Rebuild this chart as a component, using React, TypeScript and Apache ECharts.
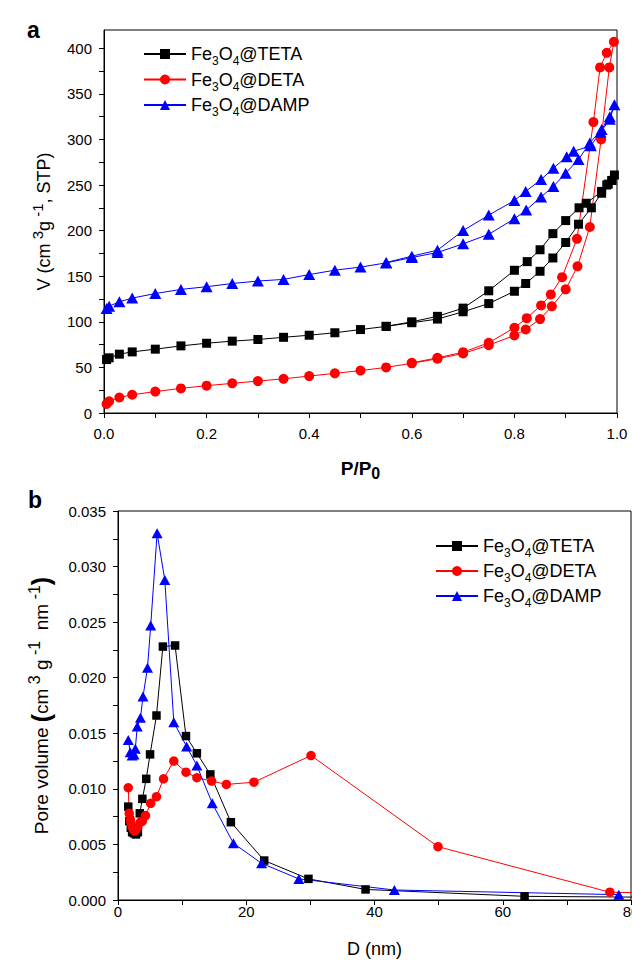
import React, { useEffect, useRef } from 'react';
import * as echarts from 'echarts';

const FONT = 'Liberation Sans, Arial, sans-serif';

// ---------- Panel a: N2 adsorption / desorption isotherms ----------
const tetaAdsP = [0.005, 0.01, 0.03, 0.055, 0.1, 0.15, 0.2, 0.25, 0.3, 0.35, 0.4, 0.45, 0.5, 0.55, 0.6, 0.65, 0.7, 0.75, 0.8, 0.822, 0.85, 0.875, 0.9, 0.925, 0.95, 0.97, 0.98, 0.99, 0.995];
const tetaAdsV = [58.6, 60.5, 64.5, 67, 70, 73.6, 76.5, 78.8, 80.6, 83, 85.3, 88, 91.5, 95, 99, 103, 111, 120, 133.5, 142, 155.4, 170, 187, 207, 225, 241, 250, 255, 261];
const tetaDesP = [0.99, 0.983, 0.97, 0.94, 0.926, 0.9, 0.875, 0.85, 0.825, 0.8, 0.75, 0.7, 0.65, 0.6, 0.55];
const tetaDesV = [255, 251, 243, 230, 225, 211, 196.7, 179, 166, 156.5, 134, 115, 106, 100, 95];

const detaAdsP = [0.005, 0.01, 0.03, 0.055, 0.1, 0.15, 0.2, 0.25, 0.3, 0.35, 0.4, 0.45, 0.5, 0.55, 0.6, 0.65, 0.7, 0.75, 0.8, 0.822, 0.85, 0.873, 0.9, 0.923, 0.947, 0.969, 0.985, 0.994];
const detaAdsV = [10, 12.8, 17, 20, 23.5, 27, 30, 32.5, 35, 37.5, 40.5, 43.5, 46.5, 50, 54.5, 59.5, 65.2, 74.4, 85, 91.6, 103, 117, 135.6, 160.8, 204, 300, 379, 407];
const detaDesP = [0.98, 0.967, 0.954, 0.922, 0.893, 0.871, 0.852, 0.824, 0.8, 0.75, 0.7, 0.65, 0.6];
const detaDesV = [395, 379, 319, 191, 149, 130, 118, 104, 93.5, 77, 66.7, 60.5, 55];

const dampAdsP = [0.005, 0.01, 0.03, 0.055, 0.1, 0.15, 0.2, 0.25, 0.3, 0.35, 0.4, 0.45, 0.5, 0.55, 0.6, 0.65, 0.7, 0.75, 0.8, 0.823, 0.852, 0.876, 0.9, 0.925, 0.947, 0.97, 0.986, 0.995];
const dampAdsV = [114.5, 117, 122, 126, 131, 135.5, 138.5, 142, 144.7, 146.5, 151.8, 156.6, 160, 164.6, 170.5, 176, 185.5, 196, 213, 222.5, 237, 248.5, 263, 278, 296, 311, 325, 338];
const dampDesP = [0.986, 0.968, 0.949, 0.9155, 0.902, 0.876, 0.852, 0.822, 0.8, 0.75, 0.7, 0.65, 0.6, 0.55];
const dampDesV = [322, 308, 293, 287, 281, 268.5, 256, 243, 233, 217, 200, 178.5, 172, 165];

// ---------- Panel b: pore size distribution ----------
const tetaD = [1.6, 1.75, 2.0, 2.2, 2.5, 2.8, 3.1, 3.4, 3.8, 4.4, 5.0, 6.0, 7.0, 8.9, 10.6, 12.3, 14.4, 17.6, 22.8, 29.7, 38.6, 63.4, 95];
const tetaPV = [0.0084, 0.0071, 0.0065, 0.0061, 0.006, 0.0059, 0.0061, 0.0078, 0.0091, 0.0109, 0.0131, 0.0166, 0.0228, 0.0229, 0.01475, 0.0132, 0.0113, 0.007, 0.00355, 0.0019, 0.00095, 0.00033, 0.0002];

const detaD = [1.6, 1.75, 1.9, 2.0, 2.2, 2.4, 2.6, 2.8, 3.1, 3.5, 3.8, 4.3, 5.1, 6.0, 7.1, 8.7, 10.6, 12.3, 14.6, 16.9, 21.2, 30.1, 49.9, 76.7, 95];
const detaPV = [0.0101, 0.0078, 0.0073, 0.007, 0.0066, 0.0063, 0.0062, 0.0063, 0.0066, 0.007, 0.0071, 0.0076, 0.0087, 0.0093, 0.0109, 0.0125, 0.0115, 0.011, 0.0107, 0.0104, 0.0106, 0.013, 0.0048, 0.0007, 0.0005];

const dampD = [1.6, 1.9, 2.2, 2.5, 2.7, 3.0, 3.5, 3.9, 4.6, 5.1, 6.1, 7.3, 8.7, 10.7, 12.3, 14.7, 18.0, 22.4, 28.2, 43.1, 78.1];
const dampPV = [0.0144, 0.0133, 0.013, 0.0131, 0.0136, 0.0156, 0.0164, 0.0183, 0.0209, 0.0247, 0.033, 0.0288, 0.016, 0.0138, 0.0121, 0.0087, 0.0051, 0.0033, 0.0019, 0.0009, 0.00048];

// ---------- Tick positions / labels ----------
const pTicks = [0, 0.1, 0.2, 0.3, 0.4, 0.5, 0.6, 0.7, 0.8, 0.9, 1.0];
const pLabels = [0, 0.2, 0.4, 0.6, 0.8, 1.0];
const vTicks = [0, 25, 50, 75, 100, 125, 150, 175, 200, 225, 250, 275, 300, 325, 350, 375, 400];
const vLabels = [0, 50, 100, 150, 200, 250, 300, 350, 400];
const dTicks = [0, 10, 20, 30, 40, 50, 60, 70, 80];
const dLabels = [0, 20, 40, 60, 80];
const pvTicks = [0, 0.0025, 0.005, 0.0075, 0.01, 0.0125, 0.015, 0.0175, 0.02, 0.0225, 0.025, 0.0275, 0.03, 0.0325, 0.035];
const pvLabels = [0, 0.005, 0.01, 0.015, 0.02, 0.025, 0.03, 0.035];

const names = ['Fe3O4@TETA', 'Fe3O4@DETA', 'Fe3O4@DAMP'];
const colors = ['#000000', '#ff0000', '#0000ff'];

const zip = (xs: number[], ys: number[]) => xs.map((x, i) => [x, ys[i]]);

const legendRich = {
  n: { fontSize: 18, lineHeight: 26, fontFamily: FONT, color: '#000' },
  s: { fontSize: 12, lineHeight: 12, verticalAlign: 'bottom', fontFamily: FONT, color: '#000' },
};
const legendFormatter = (name: string) => {
  const tail = name.split('@')[1];
  return `{n|Fe}{s|3}{n|O}{s|4}{n|@${tail}}`;
};

const axisCommon = (labelMargin: number) => ({
  type: 'value',
  axisLine: { show: true, onZero: false, lineStyle: { color: '#000', width: 1 } },
  splitLine: { show: false },
  axisLabel: { margin: labelMargin, fontSize: 15, color: '#000', fontFamily: FONT },
  axisTick: { show: true, inside: false, length: 5, lineStyle: { color: '#000', width: 1 } },
});

function buildOption() {
  const axA = axisCommon(13);
  const ayA = axisCommon(12);
  const axB = axisCommon(4);
  const ayB = axisCommon(12);

  const topSeries = [
    { ads: zip(tetaAdsP, tetaAdsV), des: zip(tetaDesP, tetaDesV), symbol: 'rect', size: 9 },
    { ads: zip(detaAdsP, detaAdsV), des: zip(detaDesP, detaDesV), symbol: 'circle', size: 10 },
    { ads: zip(dampAdsP, dampAdsV), des: zip(dampDesP, dampDesV), symbol: 'triangle', size: [12, 11] },
  ];
  const botSeries = [
    { data: zip(tetaD, tetaPV), symbol: 'rect', size: 8.5 },
    { data: zip(detaD, detaPV), symbol: 'circle', size: 9.5 },
    { data: zip(dampD, dampPV), symbol: 'triangle', size: [11, 10] },
  ];

  const series: any[] = [];
  topSeries.forEach((s, i) => {
    series.push({
      name: names[i], type: 'line', xAxisIndex: 0, yAxisIndex: 0,
      data: [...s.ads, ...s.des], symbol: s.symbol, symbolSize: s.size, showAllSymbol: true,
      itemStyle: { color: colors[i] }, lineStyle: { color: colors[i], width: 1 }, clip: true,
    });
  });
  botSeries.forEach((s, i) => {
    series.push({
      name: names[i], type: 'line', xAxisIndex: 1, yAxisIndex: 1,
      data: s.data, symbol: s.symbol, symbolSize: s.size, showAllSymbol: true,
      itemStyle: { color: colors[i] }, lineStyle: { color: colors[i], width: 1 }, clip: true,
    });
  });

  const legendBase = {
    orient: 'vertical', itemWidth: 42, itemHeight: 12.5, selectedMode: false,
    data: names, formatter: legendFormatter, textStyle: { fontSize: 18, fontFamily: FONT, rich: legendRich },
  };

  return {
    animation: false,
    backgroundColor: '#ffffff',
    textStyle: { fontFamily: FONT },
    grid: [
      { left: 104, top: 30, width: 513, height: 383, show: true, borderColor: '#000', borderWidth: 1, containLabel: false, outerBoundsMode: 'none' },
      { left: 118, top: 511, width: 513, height: 389, show: true, borderColor: '#000', borderWidth: 1, containLabel: false, outerBoundsMode: 'none' },
    ],
    legend: [
      { ...legendBase, left: 138, top: 40, itemGap: 3.5 },
      { ...legendBase, left: 430, top: 532, itemGap: 3 },
    ],
    xAxis: [
      {
        ...axA, gridIndex: 0, min: 0, max: 1,
        axisTick: { ...axA.axisTick, customValues: pTicks },
        axisLabel: { ...axA.axisLabel, customValues: pLabels, formatter: (v: number) => v.toFixed(1) },
        name: '{b|P/P}{c|0}', nameLocation: 'middle', nameGap: 42,
        nameTextStyle: {
          rich: {
            b: { fontSize: 19, fontWeight: 'bold', lineHeight: 26, fontFamily: FONT, color: '#000' },
            c: { fontSize: 16, fontWeight: 'bold', lineHeight: 16, verticalAlign: 'bottom', fontFamily: FONT, color: '#000' },
          },
        },
      },
      {
        ...axB, gridIndex: 1, min: 0, max: 80,
        axisTick: { ...axB.axisTick, customValues: dTicks },
        axisLabel: { ...axB.axisLabel, customValues: dLabels, formatter: (v: number) => String(v) },
        name: 'D (nm)', nameLocation: 'middle', nameGap: 40,
        nameTextStyle: { fontSize: 18, color: '#000', fontFamily: FONT },
      },
    ],
    yAxis: [
      {
        ...ayA, gridIndex: 0, min: 0, max: 420,
        axisTick: { ...ayA.axisTick, customValues: vTicks },
        axisLabel: { ...ayA.axisLabel, customValues: vLabels, formatter: (v: number) => String(v) },
        name: '{n|V (cm}{p| 3}{n|g}{p| -1}{n|, STP)}', nameLocation: 'middle', nameRotate: 90, nameGap: 46,
        nameTextStyle: {
          rich: {
            n: { fontSize: 18, lineHeight: 28, fontFamily: FONT, color: '#000' },
            p: { fontSize: 15, lineHeight: 15, verticalAlign: 'top', fontFamily: FONT, color: '#000' },
          },
        },
      },
      {
        ...ayB, gridIndex: 1, min: 0, max: 0.035,
        axisTick: { ...ayB.axisTick, customValues: pvTicks },
        axisLabel: { ...ayB.axisLabel, customValues: pvLabels, formatter: (v: number) => v.toFixed(3) },
        name: '{n|Pore volume }{q|(}{n|cm}{p| 3}{n| g}{p| -1}{n|  nm}{p| -1}{q|)}', nameLocation: 'middle', nameRotate: 90, nameGap: 62,
        nameTextStyle: {
          rich: {
            n: { fontSize: 19, lineHeight: 30, fontFamily: FONT, color: '#000' },
            p: { fontSize: 16, lineHeight: 16, verticalAlign: 'top', fontFamily: FONT, color: '#000' },
            q: { fontSize: 25, lineHeight: 30, fontWeight: 'bold', fontFamily: FONT, color: '#000' },
          },
        },
      },
    ],
    graphic: [
      { type: 'text', left: 27, top: 18, style: { text: 'a', font: `bold 23px ${FONT}`, fill: '#000' } },
      { type: 'text', left: 28, top: 488, style: { text: 'b', font: `bold 23px ${FONT}`, fill: '#000' } },
    ],
    series,
  };
}

export default function App() {
  const ref = useRef<HTMLDivElement>(null);
  useEffect(() => {
    const chart = echarts.init(ref.current as HTMLDivElement, null, { renderer: 'svg' });
    chart.setOption(buildOption() as any);
    return () => chart.dispose();
  }, []);
  return (
    <div
      ref={ref}
      style={{ position: 'fixed', left: 0, top: 0, width: 632, height: 960, background: '#fff' }}
    />
  );
}
